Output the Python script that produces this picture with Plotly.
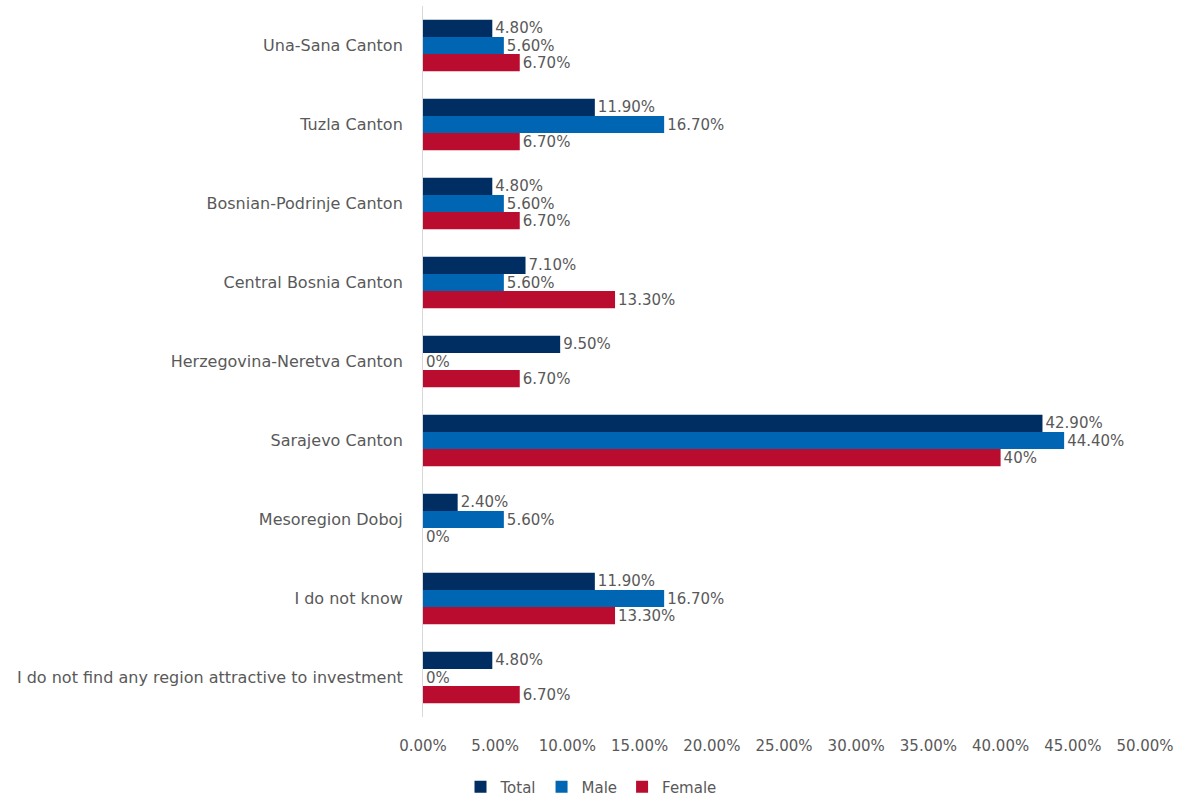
import plotly.graph_objects as go

regions = [
    "Una-Sana Canton",
    "Tuzla Canton",
    "Bosnian-Podrinje Canton",
    "Central Bosnia Canton",
    "Herzegovina-Neretva Canton",
    "Sarajevo Canton",
    "Mesoregion Doboj",
    "I do not know",
    "I do not find any region attractive to investment",
]
total = [4.8, 11.9, 4.8, 7.1, 9.5, 42.9, 2.4, 11.9, 4.8]
male = [5.6, 16.7, 5.6, 5.6, 0.0, 44.4, 5.6, 16.7, 0.0]
female = [6.7, 6.7, 6.7, 13.3, 6.7, 40.0, 0.0, 13.3, 6.7]

x_ticks = [0, 5, 10, 15, 20, 25, 30, 35, 40, 45, 50]

FONT = "DejaVu Sans"
GREY = "#595959"


def pct_label(v):
    return f"{v:g}%" if float(v).is_integer() else f"{v:.2f}%"


series = [
    ("Total", total, "#002D62"),
    ("Male", male, "#0066B3"),
    ("Female", female, "#BA0C2F"),
]

fig = go.Figure()
for name, vals, color in series:
    fig.add_trace(
        go.Bar(
            name=name,
            y=regions,
            x=vals,
            orientation="h",
            marker=dict(color=color, line=dict(width=0)),
            text=[pct_label(v) for v in vals],
            textposition="outside",
            constraintext="none",
            cliponaxis=False,
            textfont=dict(family=FONT, size=15, color=GREY),
        )
    )

fig.update_layout(
    barmode="group",
    bargap=0.35,
    bargroupgap=0,
    width=1182,
    height=799,
    margin=dict(l=423, r=37, t=6, b=82),
    paper_bgcolor="white",
    plot_bgcolor="white",
    font=dict(family=FONT, size=15, color=GREY),
    legend=dict(
        orientation="h",
        x=0.5,
        xanchor="center",
        xref="container",
        y=0.015,
        yanchor="middle",
        yref="container",
        font=dict(family=FONT, size=15, color=GREY),
        itemwidth=30,
        traceorder="normal",
    ),
    showlegend=True,
)

fig.update_xaxes(
    range=[0, 50],
    tickvals=x_ticks,
    ticktext=[f"{v:.2f}%" for v in x_ticks],
    tickfont=dict(family=FONT, size=15, color=GREY),
    showgrid=False,
    zeroline=False,
    showline=False,
    ticks="",
    ticklabelstandoff=18,
)
fig.update_yaxes(
    autorange="reversed",
    tickfont=dict(family=FONT, size=16, color=GREY),
    showgrid=False,
    showline=True,
    linecolor="#D9D9D9",
    linewidth=1,
    ticks="",
    ticklabelstandoff=16,
)

fig.write_html("out.html")
